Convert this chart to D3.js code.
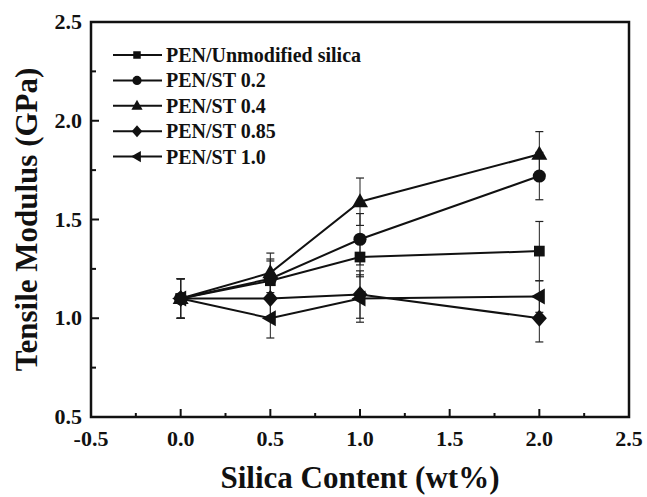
<!DOCTYPE html>
<html>
<head>
<meta charset="utf-8">
<script src="https://cdn.jsdelivr.net/npm/d3@7"></script>
<style>
body { margin:0; background:#fff; }
text { font-family:"Liberation Serif","Times New Roman",serif; font-weight:bold; fill:#111; }
</style>
</head>
<body>
<svg id="chart" width="647" height="497"></svg>
<script>
// silica content (wt%)
var silica = [0, 0.5, 1.0, 2.0];

var names = ["PEN/Unmodified silica", "PEN/ST 0.2", "PEN/ST 0.4", "PEN/ST 0.85", "PEN/ST 1.0"];

// tensile modulus (GPa)
var unmodified = [1.10, 1.19, 1.31, 1.34];
var st02 = [1.10, 1.20, 1.40, 1.72];
var st04 = [1.10, 1.23, 1.59, 1.83];
var st085 = [1.10, 1.10, 1.12, 1.00];
var st10 = [1.10, 1.00, 1.10, 1.11];

// error bar half-lengths
var errUnmodified = [0.10, 0.10, 0.10, 0.15];
var errSt02 = [0.10, 0.10, 0.13, 0.12];
var errSt04 = [0.10, 0.10, 0.12, 0.115];
var errSt085 = [0.10, 0.10, 0.12, 0.12];
var errSt10 = [0.10, 0.10, 0.12, 0.08];

var xTicks = [-0.5, 0.0, 0.5, 1.0, 1.5, 2.0, 2.5];
var yTicks = [0.5, 1.0, 1.5, 2.0, 2.5];

var seriesVals = [unmodified, st02, st04, st085, st10];
var seriesErr = [errUnmodified, errSt02, errSt04, errSt085, errSt10];
var shapes = ["square", "circle", "triangle", "diamond", "left"];

var svg = d3.select("#chart");
var pLeft = 91, pRight = 629, pTop = 22, pBottom = 417;

var x = d3.scaleLinear().domain([-0.5, 2.5]).range([pLeft, pRight]);
var y = d3.scaleLinear().domain([0.5, 2.5]).range([pBottom, pTop]);

// minor ticks
var xMinor = d3.range(-0.25, 2.5, 0.5);
var yMinor = d3.range(0.75, 2.5, 0.5);

svg.append("g").selectAll("line").data(xTicks.slice(1, -1)).enter().append("line")
	.attr("x1", function(d){ return x(d); }).attr("x2", function(d){ return x(d); })
	.attr("y1", pBottom).attr("y2", pBottom - 8)
	.attr("stroke", "#111").attr("stroke-width", 2);
svg.append("g").selectAll("line").data(xMinor).enter().append("line")
	.attr("x1", function(d){ return x(d); }).attr("x2", function(d){ return x(d); })
	.attr("y1", pBottom).attr("y2", pBottom - 4)
	.attr("stroke", "#111").attr("stroke-width", 2);
svg.append("g").selectAll("line").data(yTicks.slice(1, -1)).enter().append("line")
	.attr("y1", function(d){ return y(d); }).attr("y2", function(d){ return y(d); })
	.attr("x1", pLeft).attr("x2", pLeft + 8)
	.attr("stroke", "#111").attr("stroke-width", 2);
svg.append("g").selectAll("line").data(yMinor).enter().append("line")
	.attr("y1", function(d){ return y(d); }).attr("y2", function(d){ return y(d); })
	.attr("x1", pLeft).attr("x2", pLeft + 5)
	.attr("stroke", "#111").attr("stroke-width", 2);

// frame
svg.append("rect").attr("x", pLeft).attr("y", pTop)
	.attr("width", pRight - pLeft).attr("height", pBottom - pTop)
	.attr("fill", "none").attr("stroke", "#111").attr("stroke-width", 2.5);

// tick labels
svg.append("g").selectAll("text").data(xTicks).enter().append("text")
	.attr("x", function(d){ return x(d); }).attr("y", 446)
	.attr("text-anchor", "middle").attr("font-size", 22)
	.text(function(d){ return d.toFixed(1); });
svg.append("g").selectAll("text").data(yTicks).enter().append("text")
	.attr("x", pLeft - 9).attr("y", function(d){ return y(d) + 7; })
	.attr("text-anchor", "end").attr("font-size", 22)
	.text(function(d){ return d.toFixed(1); });

// axis titles
svg.append("text").attr("x", (pLeft + pRight) / 2).attr("y", 488)
	.attr("text-anchor", "middle").attr("font-size", 31)
	.text("Silica Content (wt%)");
svg.append("text").attr("transform", "translate(37," + ((pTop + pBottom) / 2) + ") rotate(-90)")
	.attr("text-anchor", "middle").attr("font-size", 31)
	.text("Tensile Modulus (GPa)");

function symbolPath(shape)
{
	if(shape == "square") return d3.symbol().type(d3.symbolSquare).size(115)();
	if(shape == "circle") return d3.symbol().type(d3.symbolCircle).size(135)();
	if(shape == "diamond") return "M0,-8.5L7.5,0L0,8.5L-7.5,0Z";
	if(shape == "triangle") return "M0,-8.5L8,5.5L-8,5.5Z";
	return "M-8.5,0L5.5,-8L5.5,8Z";
}

var line = d3.line()
	.x(function(d){ return x(d[0]); })
	.y(function(d){ return y(d[1]); });

// error bars first
seriesVals.forEach(function(vals, s)
{
	var g = svg.append("g");
	vals.forEach(function(v, i)
	{
		var e = seriesErr[s][i];
		var cx = x(silica[i]);
		g.append("line").attr("x1", cx).attr("x2", cx)
			.attr("y1", y(v - e)).attr("y2", y(v + e))
			.attr("stroke", "#222").attr("stroke-width", 1);
		[v - e, v + e].forEach(function(w)
		{
			g.append("line").attr("x1", cx - 4).attr("x2", cx + 4)
				.attr("y1", y(w)).attr("y2", y(w))
				.attr("stroke", "#222").attr("stroke-width", 1.2);
		});
	});
});

// lines and markers
seriesVals.forEach(function(vals, s)
{
	var pts = silica.map(function(d, i){ return [d, vals[i]]; });
	svg.append("path").attr("d", line(pts))
		.attr("fill", "none").attr("stroke", "#111").attr("stroke-width", 2);
	svg.append("g").selectAll("path").data(pts).enter().append("path")
		.attr("transform", function(d){ return "translate(" + x(d[0]) + "," + y(d[1]) + ")"; })
		.attr("d", symbolPath(shapes[s]))
		.attr("fill", "#111");
});

// legend
var legend = svg.append("g");
names.forEach(function(n, i)
{
	var ly = 55 + i * 25.4;
	legend.append("line").attr("x1", 113).attr("x2", 162)
		.attr("y1", ly).attr("y2", ly)
		.attr("stroke", "#111").attr("stroke-width", 2);
	legend.append("path").attr("transform", "translate(137," + ly + ") scale(0.7)")
		.attr("d", symbolPath(shapes[i])).attr("fill", "#111");
	legend.append("text").attr("x", 166).attr("y", ly + 7)
		.attr("font-size", 20).text(n);
});
</script>
</body>
</html>
